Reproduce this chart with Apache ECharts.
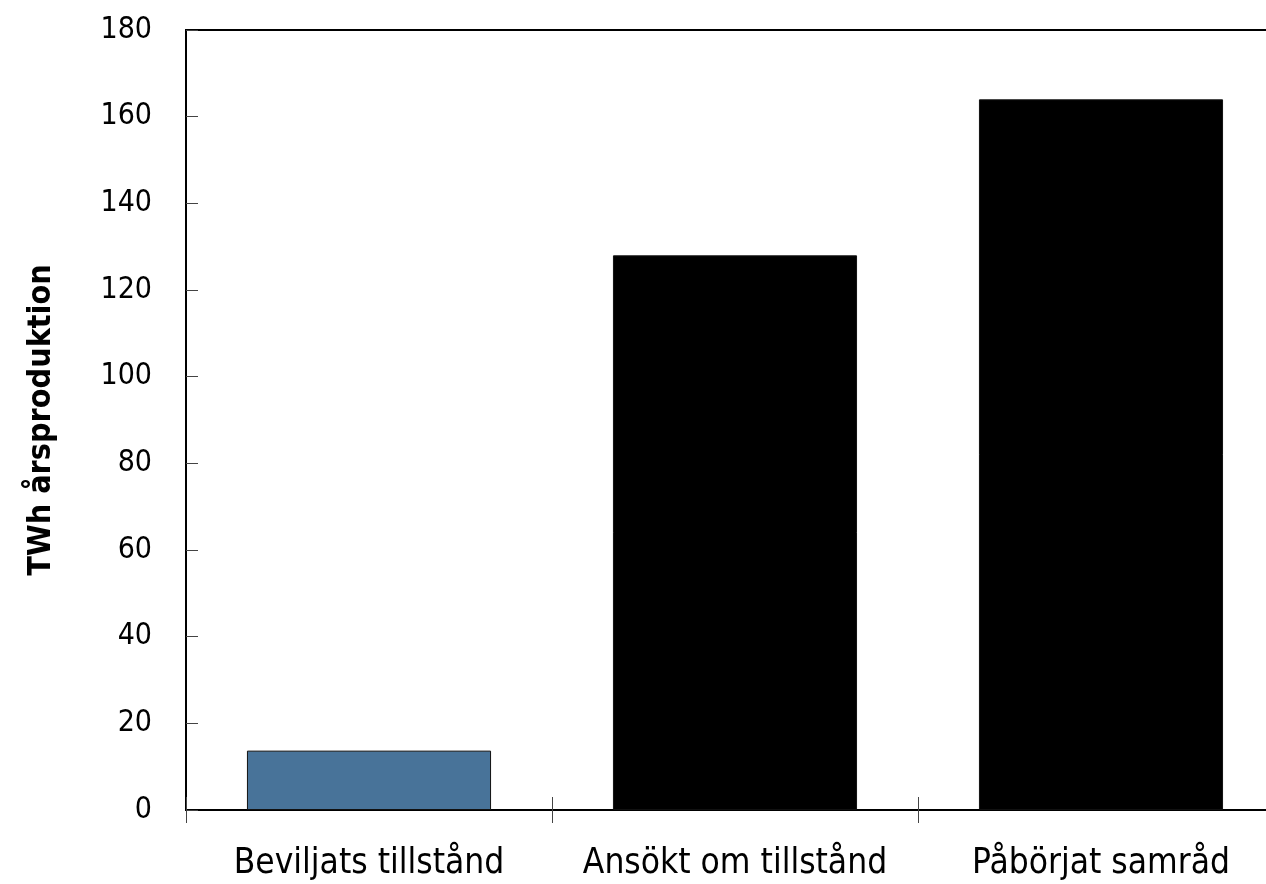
<!DOCTYPE html>
<html><head><meta charset="utf-8">
<script src="https://cdn.jsdelivr.net/npm/echarts@6/dist/echarts.min.js"></script>
<style>html,body{margin:0;padding:0;background:#fff}#c{width:1266px;height:884px}</style>
</head><body><div id="c"></div>
<script>
var categories = ['Beviljats tillstånd', 'Ansökt om tillstånd', 'Påbörjat samråd'];
var values = [13.7, 128, 164];
var barColors = ['#487399', '#000000', '#000000'];
var yTicks = [0, 20, 40, 60, 80, 100, 120, 140, 160, 180];
var yTitle = 'TWh årsproduktion';

var FONT = "'Liberation Sans Narrow', 'DejaVu Sans Condensed', sans-serif";
var chart = echarts.init(document.getElementById('c'));
chart.setOption({
  animation: false,
  grid: { left: 186, top: 30, width: 1098, bottom: 74, outerBoundsMode: 'none', containLabel: false,
    show: true, borderColor: '#000', borderWidth: 2, backgroundColor: 'transparent' },
  xAxis: [{
    type: 'category', data: categories,
    axisLine: { lineStyle: { color: '#000', width: 2 } },
    axisTick: { show: true, inside: false, length: 13, lineStyle: { color: '#444', width: 1 } },
    axisLabel: { color: '#000', fontFamily: FONT, fontSize: 35, margin: 36, interval: 0 }
  }, {
    type: 'category', data: categories, position: 'bottom',
    axisLine: { show: false },
    axisTick: { show: true, inside: true, length: 13, lineStyle: { color: '#444', width: 1 } },
    axisLabel: { show: false }
  }],
  yAxis: {
    type: 'value', min: 0, max: 180, interval: 20,
    name: yTitle, nameLocation: 'middle', nameGap: 128,
    nameTextStyle: { color: '#000', fontFamily: FONT, fontSize: 32, fontWeight: 'bold' },
    axisLine: { show: true, lineStyle: { color: '#000', width: 2 } },
    axisTick: { show: true, inside: true, length: 12, lineStyle: { color: '#444', width: 1 } },
    splitLine: { show: false },
    axisLabel: { color: '#000', fontFamily: FONT, fontSize: 30, margin: 34,
      formatter: function (v) { return yTicks.indexOf(v) >= 0 ? String(v) : ''; } }
  },
  series: [{
    type: 'bar', barCategoryGap: '33.3%',
    data: values.map(function (v, i) {
      return { value: v, itemStyle: { color: barColors[i], borderColor: '#111', borderWidth: 1 } };
    })
  }]
});
</script></body></html>
